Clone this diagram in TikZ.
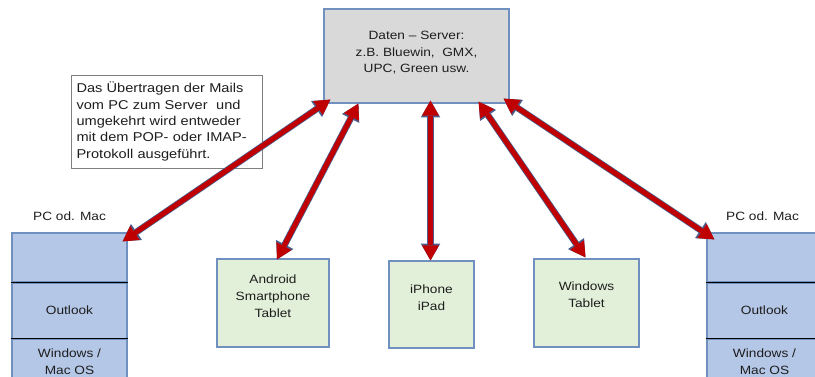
\documentclass[tikz,border=0pt]{standalone}
\usepackage{fontspec}
\setmainfont{Liberation Sans}[FakeStretch=1.14]
\usetikzlibrary{arrows.meta,calc}
\definecolor{arrred}{HTML}{C00000}
\definecolor{outl}{HTML}{4A5F8F}
\definecolor{bordblue}{HTML}{7090C0}
\definecolor{srvfill}{HTML}{D9D9D9}
\definecolor{pcfill}{HTML}{B4C7E7}
\definecolor{grfill}{HTML}{E2F0D9}
\definecolor{notebord}{HTML}{808080}
\definecolor{txt}{HTML}{1E1E1E}
\begin{document}
\begin{tikzpicture}[x=1pt,y=-1pt,
  every node/.style={font=\fontsize{12}{16.8}\selectfont, text=txt},
  box/.style={draw=bordblue, line width=1.2pt, inner sep=0pt, align=center},
  srv/.style={box, fill=srvfill},
  pcbox/.style={box, fill=pcfill, minimum width=115},
  grbox/.style={box, fill=grfill},
  note/.style={draw=notebord, line width=1pt, fill=white, align=left, text width=180pt,
    inner xsep=5.5pt, inner ysep=0pt, minimum height=93, font=\fontsize{12.8}{16.3}\selectfont},
  divider/.style={draw=black, line width=1.2pt},
  lbl/.style={inner sep=0pt},
  dbl/.style={draw=arrred, line width=5pt,
    {Triangle[length=15pt,width=17pt,line width=0pt]}-{Triangle[length=15pt,width=17pt,line width=0pt]},
    preaction={draw=outl, line width=6.6pt,
      arrows={Triangle[length=16.8pt,width=19.5pt,line width=0pt]-Triangle[length=16.8pt,width=19.5pt,line width=0pt]}}}
]
\useasboundingbox (0,0) rectangle (815,376);
\clip (0,0) rectangle (815,376);

% server
\node[srv, minimum width=185, minimum height=94, text depth=8pt] (server) at (416.5,56)
  {Daten – Server:\\z.B.\ Bluewin,\ \ GMX,\\UPC, Green usw.};

% note
\node[note] (note) at (166.5,121.5)
  {Das Übertragen der Mails\\vom PC zum Server\ \ und\\umgekehrt wird entweder\\mit dem POP- oder IMAP-\\Protokoll ausgeführt.};

% left PC
\node[pcbox, minimum height=49] (pc1top) at (69.5,257.5) {};
\node[pcbox, minimum height=55, anchor=north] (pc1mid) at (pc1top.south) {Outlook};
\node[pcbox, minimum height=44, anchor=north] (pc1bot) at (pc1mid.south) {Windows /\\Mac OS};
\draw[divider] (pc1mid.north west) -- (pc1mid.north east);
\draw[divider] (pc1bot.north west) -- (pc1bot.north east);
\node[lbl] (pc1lbl) at ([yshift=16]pc1top.north) {PC od. Mac};

% right PC
\node[pcbox, minimum height=49] (pc2top) at (764.5,257.5) {};
\node[pcbox, minimum height=55, anchor=north] (pc2mid) at (pc2top.south) {Outlook};
\node[pcbox, minimum height=44, anchor=north] (pc2bot) at (pc2mid.south) {Windows /\\Mac OS};
\draw[divider] (pc2mid.north west) -- (pc2mid.north east);
\draw[divider] (pc2bot.north west) -- (pc2bot.north east);
\node[lbl] (pc2lbl) at ([yshift=16,xshift=-2]pc2top.north) {PC od. Mac};

% devices
\node[grbox, minimum width=112, minimum height=88, text depth=14pt] (andr) at (273,303)
  {Android\\Smartphone\\Tablet};
\node[grbox, minimum width=85, minimum height=87, text depth=14pt] (iph) at (431.5,304.5)
  {iPhone\\iPad};
\node[grbox, minimum width=105, minimum height=88, text depth=17pt] (win) at (586.5,303)
  {Windows\\Tablet};

% arrows
\draw[dbl] ([xshift=7,yshift=4]server.south west) -- ([xshift=-5,yshift=-9]pc1top.north east);
\draw[dbl] ([xshift=35,yshift=0]server.south west) -- ([xshift=4,yshift=-1]andr.north);
\draw[dbl] ($(iph.north |- server.south)+(-1,-3)$) -- ([xshift=-1]iph.north);
\draw[dbl] ([xshift=-31,yshift=2]server.south east) -- ([xshift=-1,yshift=1]win.north);
\draw[dbl] ([xshift=-6,yshift=5]server.south east) -- ([xshift=8,yshift=-7]pc2top.north west);
\end{tikzpicture}
\end{document}
